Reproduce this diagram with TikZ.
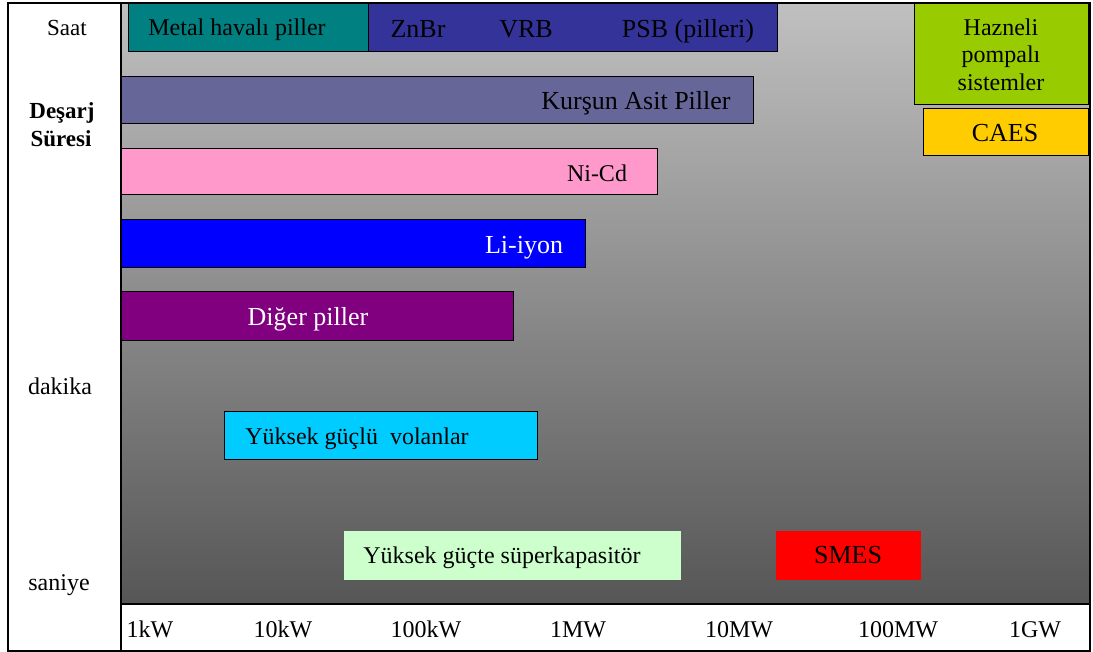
\documentclass[tikz,border=0pt]{standalone}
\usepackage{fontspec}
\setmainfont{Liberation Serif}
\definecolor{gtop}{RGB}{192,192,192}
\definecolor{gbot}{RGB}{86,86,86}
\definecolor{cmetal}{RGB}{0,128,128}
\definecolor{cflow}{RGB}{51,51,153}
\definecolor{clead}{RGB}{102,102,153}
\definecolor{cnicd}{RGB}{255,153,204}
\definecolor{cli}{RGB}{0,0,255}
\definecolor{cother}{RGB}{128,0,128}
\definecolor{cfly}{RGB}{0,204,255}
\definecolor{ccap}{RGB}{204,255,204}
\definecolor{csmes}{RGB}{255,0,0}
\definecolor{chydro}{RGB}{153,204,0}
\definecolor{ccaes}{RGB}{255,204,0}
\begin{document}
\begin{tikzpicture}[x=1pt,y=-1pt,
  bar/.style={draw=black, line width=1.3pt, inner sep=0pt, anchor=north west},
  flat/.style={draw=none, inner sep=0pt, anchor=north west},
  lbl/.style={anchor=base, inner sep=0pt, font=\fontsize{24}{28}\selectfont},
  big/.style={font=\fontsize{26}{30}\selectfont},
  frame/.style={draw=black, line width=1.5pt},
]
\useasboundingbox (0,0) rectangle (1093,652);
\fill[white] (0,0) rectangle (1093,652);
% chart background
\shade[top color=gtop, bottom color=gbot] (121,3) rectangle (1090,604);

% technology bars
\node[bar, fill=cmetal, minimum width=240pt, minimum height=48pt] (metal) at (128,3) {};
\node[bar, fill=cflow,  minimum width=409pt, minimum height=48pt] (flow) at (368,3) {};
\node[bar, fill=clead,  minimum width=632pt, minimum height=47pt] (lead) at (121,76) {};
\node[bar, fill=cnicd,  minimum width=536pt, minimum height=46pt] (nicd) at (121,148) {};
\node[bar, fill=cli,    minimum width=464pt, minimum height=48pt] (liion) at (121,219) {};
\node[bar, fill=cother, minimum width=392pt, minimum height=49pt] (other) at (121,291) {};
\node[bar, fill=cfly,   minimum width=313pt, minimum height=48pt] (fly) at (224,411) {};
\node[flat, fill=ccap,  minimum width=337pt, minimum height=49pt] (cap) at (344,531) {};
\node[flat, fill=csmes, minimum width=145pt, minimum height=49pt] (smes) at (776,531) {};
\node[bar, fill=chydro, minimum width=174pt, minimum height=101pt] (hydro) at (914,3) {};
\node[bar, fill=ccaes,  minimum width=165pt, minimum height=47pt] (caes) at (923,108) {};

% bar labels
\node[lbl] (tmetal) at (237,36) {Metal havalı piller};
\node[lbl, big] (tznbr) at (418,38) {ZnBr};
\node[lbl, big] (tvrb) at (526,38) {VRB};
\node[lbl, big] (tpsb) at (688,38) {PSB (pilleri)};
\node[lbl, big] (tlead) at (636,110) {Kurşun Asit Piller};
\node[lbl] (tnicd) at (597,182) {Ni-Cd};
\node[lbl, big, text=white] (tli) at (524,254) {Li-iyon};
\node[lbl, big, text=white] (tother) at (308,326) {Diğer piller};
\node[lbl] (tfly) at (357,444) {Yüksek güçlü~ volanlar};
\node[lbl] (tcap) at (502,563) {Yüksek güçte süperkapasitör};
\node[lbl, big] (tsmes) at (848,563) {SMES};
\node[lbl] (th1) at (1001,36) {Hazneli};
\node[lbl] (th2) at (1001,63) {pompalı};
\node[lbl] (th3) at (1001,91) {sistemler};
\node[lbl, big] (tcaes) at (1005,142) {CAES};

% duration axis
\node[lbl, font=\fontsize{23}{27}\selectfont] (saat) at (67,36) {Saat};
\node[lbl, font=\fontsize{23}{27}\selectfont\bfseries] (desarj) at (62,119) {Deşarj};
\node[lbl, font=\fontsize{23}{27}\selectfont\bfseries] (suresi) at (61,147) {Süresi};
\node[lbl] (dakika) at (60,395) {dakika};
\node[lbl] (saniye) at (59,590) {saniye};

% power axis
\node[lbl] (p1) at (150,637) {1kW};
\node[lbl] (p2) at (283,637) {10kW};
\node[lbl] (p3) at (426,637) {100kW};
\node[lbl] (p4) at (578,637) {1MW};
\node[lbl] (p5) at (739,637) {10MW};
\node[lbl] (p6) at (898,637) {100MW};
\node[lbl] (p7) at (1035,637) {1GW};

% table frame
\draw[frame] (8,3) rectangle (1090,651);
\draw[frame, line width=2.2pt] (121,3) -- (121,651);
\draw[frame, line width=2pt] (121,604) -- (1090,604);
\end{tikzpicture}
\end{document}
